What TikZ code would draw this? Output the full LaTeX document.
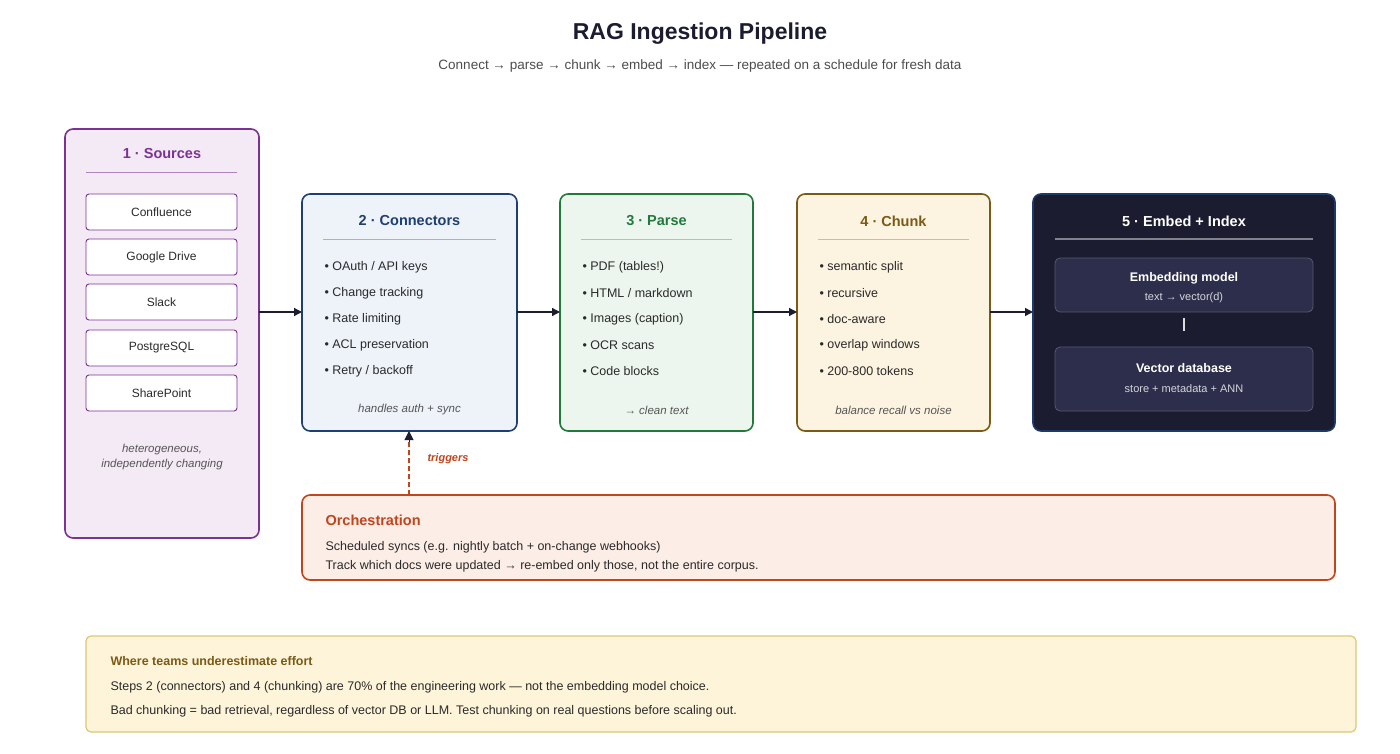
\documentclass[tikz,border=0pt]{standalone}
\usepackage{fontspec}
\setmainfont{Liberation Sans}
\usetikzlibrary{arrows.meta}
\definecolor{purp}{HTML}{7B3294}\definecolor{purpf}{HTML}{F4EAF6}
\definecolor{blu}{HTML}{1F3F73}\definecolor{bluf}{HTML}{EEF3FA}
\definecolor{grn}{HTML}{217A3C}\definecolor{grnf}{HTML}{EDF6EE}
\definecolor{brn}{HTML}{7A5A14}\definecolor{brnf}{HTML}{FDF3E1}
\definecolor{drk}{HTML}{1B1C30}\definecolor{drkb}{HTML}{1E3A6A}\definecolor{drki}{HTML}{2D2E4C}
\definecolor{org}{HTML}{C0461E}\definecolor{orgf}{HTML}{FCEDE6}
\definecolor{yel}{HTML}{DCC873}\definecolor{yelf}{HTML}{FDF4DA}\definecolor{yelt}{HTML}{7A5A14}
\definecolor{txt}{HTML}{2A2A2A}\definecolor{cap}{HTML}{555555}
\tikzset{
 stage/.style={draw=#1,line width=1.6pt,rounded corners=8pt},
 item/.style={draw=purp,fill=white,line width=0.9pt,rounded corners=3pt,minimum width=151pt,minimum height=36pt,font=\fontsize{12}{14}\selectfont,text=txt},
 btxt/.style={anchor=west,font=\fontsize{12.5}{14}\selectfont,text=txt},
 ctxt/.style={font=\itshape\fontsize{11.5}{14}\selectfont,text=cap},
 ttl/.style={font=\bfseries\fontsize{14.5}{17}\selectfont},
 flow/.style={-{Triangle[length=8pt,width=8pt]},line width=1.3pt,draw=drk},
}
\begin{document}
\begin{tikzpicture}[x=1pt,y=-1pt]
\useasboundingbox (0,0) rectangle (1400,754);
\node[font=\bfseries\fontsize{23}{27}\selectfont,text=drk] (title) at (700,34) {RAG Ingestion Pipeline};
\node[font=\fontsize{13.5}{16}\selectfont,text=cap!90!black] (sub) at (700,66) {Connect → parse → chunk → embed → index — repeated on a schedule for fresh data};
% Sources
\draw[stage=purp,fill=purpf] (65,129) rectangle (259,538);
\node (s1) at (162,334) {};
\node[ttl,text=purp] at (162,154) {1 · Sources};
\draw[purp!60,line width=0.8pt] (86,172) -- (237,172);
\foreach \t/\y in {Confluence/212,Google Drive/257,Slack/302,PostgreSQL/348,SharePoint/393}
 \node[item] at (161.5,\y) {\t};
\node[ctxt,align=center] at (162,457) {heterogeneous,\\[1pt]independently changing};
% generic stage macro
\newcommand\stagebox[8]{%
 \draw[stage=#2,fill=#3] (#4,194) rectangle (#5,431);
 \node[ttl,text=#2] at ({(#4+#5)/2},221) {#1};
 \draw[#2!40,line width=0.9pt] ({#4+21},239) -- ({#5-21},239);
 \node[ctxt] at ({(#4+#5)/2},410) {#7};
 \foreach \b [count=\i] in {#6} \node[btxt] at ({#4+19},{241+26*\i}) {• \b};
 \coordinate (#8w) at (#4,312); \coordinate (#8e) at (#5,312);}
\stagebox{2 · Connectors}{blu}{bluf}{302}{517}{OAuth / API keys,Change tracking,Rate limiting,ACL preservation,Retry / backoff}{handles auth + sync}{c}
\stagebox{3 · Parse}{grn}{grnf}{560}{753}{PDF (tables!),HTML / markdown,Images (caption),OCR scans,Code blocks}{→ clean text}{p}
\stagebox{4 · Chunk}{brn}{brnf}{797}{990}{semantic split,recursive,doc-aware,overlap windows,200-800 tokens}{balance recall vs noise}{k}
% Embed
\draw[stage=drkb,fill=drk] (1033,194) rectangle (1335,431);
\coordinate (ew) at (1033,312);
\node[ttl,text=white] at (1184,221) {5 · Embed + Index};
\draw[white!45!drk,line width=1pt] (1055,239) -- (1313,239);
\draw[fill=drki,draw=white!20!drki,rounded corners=5pt,line width=0.8pt] (1055,258) rectangle (1313,312);
\node[font=\bfseries\fontsize{12.5}{15}\selectfont,text=white] (em) at (1184,278) {Embedding model};
\node[font=\fontsize{11}{13}\selectfont,text=white!80!drki] at (1184,298) {text → vector(d)};
\draw[fill=drki,draw=white!20!drki,rounded corners=5pt,line width=0.8pt] (1055,347) rectangle (1313,411);
\node[font=\bfseries\fontsize{12.5}{15}\selectfont,text=white] (vd) at (1184,368) {Vector database};
\node[font=\fontsize{11}{13}\selectfont,text=white!80!drki] at (1184,389) {store + metadata + ANN};
\coordinate (l1) at (1184,318); \coordinate (l2) at (1184,331);
\draw[white!85!drk,line width=1.5pt] (l1) -- (l2);
% flow arrows
\coordinate (sE) at (259,312);
\draw[flow] (sE) -- (cw);
\draw[flow] (ce) -- (pw);
\draw[flow] (pe) -- (kw);
\draw[flow] (ke) -- (ew);
% Orchestration
\draw[stage=org,fill=orgf] (302,495) rectangle (1335,580);
\node[anchor=west,ttl,text=org] (orch) at (322,520) {Orchestration};
\node[btxt] at (322,547) {Scheduled syncs (e.g. nightly batch + on-change webhooks)};
\node[btxt] at (322,566) {Track which docs were updated → re-embed only those, not the entire corpus.};
\coordinate (o1) at (409,495); \coordinate (o2) at (409,431);
\draw[dashed,org,line width=1.2pt,dash pattern=on 5pt off 3pt] (o1) -- (409,442);
\draw[-{Triangle[length=9pt,width=9pt]},drk,line width=1pt] (409,442) -- (o2);
\node[anchor=west,font=\bfseries\itshape\fontsize{11}{13}\selectfont,text=org] at (424,459) {triggers};
% bottom note
\draw[draw=yel,fill=yelf,line width=1.2pt,rounded corners=5pt] (86,636) rectangle (1356,732);
\node[anchor=west,font=\bfseries\fontsize{12.5}{15}\selectfont,text=yelt] at (107,661) {Where teams underestimate effort};
\node[btxt] at (107,687) {Steps 2 (connectors) and 4 (chunking) are 70\% of the engineering work — not the embedding model choice.};
\node[btxt] at (107,711) {Bad chunking = bad retrieval, regardless of vector DB or LLM. Test chunking on real questions before scaling out.};
\end{tikzpicture}
\end{document}
